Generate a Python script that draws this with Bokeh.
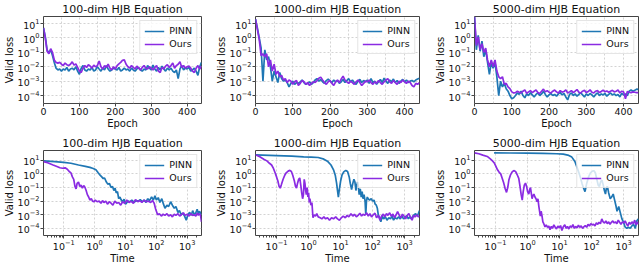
from bokeh.plotting import figure
from bokeh.layouts import row, column
from bokeh.models import FixedTicker, Range1d
from bokeh.embed import file_html
from bokeh.resources import INLINE

# ---------------- data ----------------
titles = ["100-dim HJB Equation", "1000-dim HJB Equation", "5000-dim HJB Equation"]
series_names = ["PINN", "Ours"]

epochs = [0, 5, 10, 15, 20, 25, 30, 35, 40, 45,
          50, 55, 60, 65, 70, 75, 80, 85, 90, 95,
          100, 105, 110, 115, 120, 125, 130, 135, 140, 145,
          150, 155, 160, 165, 170, 175, 180, 185, 190, 195,
          200, 205, 210, 215, 220, 225, 230, 235, 240, 245,
          250, 255, 260, 265, 270, 275, 280, 285, 290, 295,
          300, 305, 310, 315, 320, 325, 330, 335, 340, 345,
          350, 355, 360, 365, 370, 375, 380, 385, 390, 395,
          400, 405, 410, 415, 420, 425, 430, 435, 440]

e100_pinn = [5.0, 1.2, 0.15, 0.09, 0.15, 0.06, 0.02, 0.008, 0.006, 0.007,
             0.005, 0.007, 0.006, 0.009, 0.005, 0.007, 0.008, 0.006, 0.010, 0.005,
             0.003, 0.008, 0.012, 0.006, 0.005, 0.007, 0.006, 0.009, 0.005, 0.006,
             0.010, 0.007, 0.005, 0.008, 0.006, 0.012, 0.007, 0.005, 0.006, 0.008,
             0.007, 0.006, 0.009, 0.005, 0.006, 0.008, 0.006, 0.007, 0.005, 0.008,
             0.006, 0.005, 0.007, 0.009, 0.006, 0.005, 0.007, 0.006, 0.012, 0.008,
             0.006, 0.013, 0.007, 0.005, 0.009, 0.006, 0.011, 0.007, 0.005, 0.008,
             0.006, 0.008, 0.005, 0.004, 0.006, 0.0015, 0.007, 0.012, 0.006, 0.008,
             0.007, 0.009, 0.005, 0.006, 0.008, 0.005, 0.0025, 0.010, 0.020]
e100_ours = [5.0, 1.0, 0.12, 0.08, 0.18, 0.1, 0.03, 0.02, 0.018, 0.02,
             0.015, 0.012, 0.018, 0.014, 0.012, 0.015, 0.022, 0.013, 0.016, 0.009,
             0.005, 0.004, 0.008, 0.012, 0.009, 0.014, 0.011, 0.008, 0.013, 0.01,
             0.012, 0.025, 0.01, 0.007, 0.012, 0.009, 0.015, 0.008, 0.006, 0.01,
             0.007, 0.012, 0.016, 0.02, 0.028, 0.03, 0.015, 0.01, 0.008, 0.012,
             0.009, 0.007, 0.011, 0.008, 0.006, 0.009, 0.012, 0.008, 0.007, 0.01,
             0.008, 0.006, 0.009, 0.012, 0.005, 0.004, 0.009, 0.007, 0.011, 0.014,
             0.009, 0.012, 0.018, 0.008, 0.012, 0.015, 0.022, 0.009, 0.012, 0.008,
             0.01, 0.011, 0.008, 0.005, 0.004, 0.008, 0.012, 0.007, 0.011]

e1000_pinn = [20, 5, 1.0, 0.2, 0.001, 0.15, 0.03, 0.05, 0.01, 0.001,
              0.005, 0.002, 0.0008, 0.004, 0.0015, 0.001, 0.0012, 0.0008, 0.0004, 0.0007,
              0.001, 0.0006, 0.0008, 0.0007, 0.0009, 0.0012, 0.0008, 0.0006, 0.0007, 0.0009,
              0.0006, 0.0008, 0.0012, 0.0015, 0.001, 0.0013, 0.0009, 0.0007, 0.0011, 0.0014,
              0.001, 0.0008, 0.0012, 0.0009, 0.0011, 0.0007, 0.0009, 0.0013, 0.0008, 0.0011,
              0.0015, 0.0009, 0.0012, 0.0008, 0.0006, 0.001, 0.0013, 0.0008, 0.0011, 0.0009,
              0.0012, 0.0007, 0.0015, 0.0008, 0.001, 0.0006, 0.0009, 0.0013, 0.0008, 0.0016,
              0.001, 0.0007, 0.0012, 0.0009, 0.0014, 0.0008, 0.0011, 0.0007, 0.001, 0.0013,
              0.0009, 0.0012, 0.0008, 0.001, 0.0011, 0.0009, 0.0012, 0.0014, 0.0016]
e1000_ours = [20, 4, 0.8, 0.06, 0.08, 0.05, 0.08, 0.01, 0.03, 0.005,
              0.015, 0.003, 0.005, 0.002, 0.0025, 0.0012, 0.0015, 0.0008, 0.0012, 0.001,
              0.0006, 0.0009, 0.0011, 0.0005, 0.0007, 0.0011, 0.0009, 0.0006, 0.0008, 0.0005,
              0.0007, 0.0009, 0.0008, 0.0011, 0.0016, 0.0019, 0.0012, 0.0008, 0.0006, 0.0009,
              0.0011, 0.0007, 0.0005, 0.0009, 0.0012, 0.0008, 0.0014, 0.0022, 0.0012, 0.0009,
              0.0007, 0.001, 0.0008, 0.0006, 0.0009, 0.0012, 0.0008, 0.0005, 0.0007, 0.001,
              0.0009, 0.0012, 0.0008, 0.0006, 0.0009, 0.0007, 0.0011, 0.0008, 0.0006, 0.0009,
              0.0012, 0.0015, 0.0009, 0.0007, 0.0011, 0.0008, 0.0006, 0.001, 0.0008, 0.0012,
              0.0009, 0.0007, 0.001, 0.0008, 0.0005, 0.0004, 0.0007, 0.0006, 0.0008]

e5000_pinn = [30, 0.15, 1.5, 0.12, 0.6, 0.05, 0.15, 0.02, 0.003, 0.02,
              0.008, 0.02, 0.002, 0.0001, 0.001, 0.0004, 0.0007, 0.0003, 0.0002, 0.0001,
              6e-5, 7e-5, 1e-4, 1.5e-4, 1.2e-4, 2e-4, 1e-4, 7e-5, 1.3e-4, 1e-4,
              1.6e-4, 1.1e-4, 8e-5, 1.2e-4, 1.5e-4, 1e-4, 1.3e-4, 2e-4, 1.2e-4, 8e-5,
              1.1e-4, 1.4e-4, 1e-4, 1.2e-4, 9e-5, 1.3e-4, 1.6e-4, 1.1e-4, 1.4e-4, 8e-5,
              5e-5, 1.2e-4, 1.5e-4, 1e-4, 1.3e-4, 9e-5, 1.2e-4, 1.6e-4, 1.1e-4, 8e-5,
              1.3e-4, 1e-4, 1.4e-4, 1.1e-4, 8e-5, 1.2e-4, 1.5e-4, 1e-4, 1.3e-4, 1.1e-4,
              1.4e-4, 9e-5, 1.2e-4, 1.5e-4, 1.1e-4, 1.3e-4, 1e-4, 1.2e-4, 8e-5, 1.4e-4,
              1.1e-4, 1.3e-4, 1e-4, 2e-4, 2.5e-4, 2e-4, 2.3e-4, 2.8e-4, 2.7e-4]
e5000_ours = [30, 0.3, 1.2, 0.15, 0.4, 0.1, 0.2, 0.03, 0.01, 0.03,
              0.01, 0.03, 0.005, 0.002, 0.0015, 0.002, 0.0006, 0.0007, 0.0004, 0.0003,
              0.00018, 0.00015, 0.00016, 0.0002, 0.00017, 0.00015, 0.0002, 0.00025, 0.00014, 0.00018,
              0.00022, 0.00016, 0.0002, 0.00024, 0.00016, 0.00014, 0.0002, 0.00028, 0.00018, 0.00022,
              0.00017, 0.00015, 0.0002, 0.00024, 0.00018, 0.00015, 0.00022, 0.00017, 0.00019, 0.00025,
              0.00015, 0.00018, 0.00022, 0.00016, 0.0002, 0.00026, 0.00017, 0.00015, 0.0002, 0.00023,
              0.00016, 0.00019, 0.00025, 0.00017, 0.00015, 0.0002, 0.00022, 0.00016, 0.00019, 0.00024,
              0.00018, 0.00021, 0.00017, 0.0002, 0.00023, 0.00018, 0.0002, 0.00024, 0.00015, 0.0002,
              0.00018, 6e-5, 0.00019, 0.00017, 0.00016, 0.00018, 0.00017, 0.00016, 0.00016]

t100_pinn = [0.022, 0.05, 0.1, 0.17, 0.3, 0.5, 0.7, 0.9, 1.1, 1.3,
             1.5, 1.7, 1.9, 2.1, 2.4, 2.7, 3.0, 3.4, 3.8, 4.2,
             4.6, 5.0, 5.5, 6.0, 6.6, 7.3, 8.0, 9.0, 10, 12,
             14, 16, 19, 22, 26, 30, 35, 40, 46, 52,
             60, 70, 80, 90, 100, 115, 130, 150, 170, 190,
             220, 250, 290, 330, 380, 430, 500, 560, 640, 720,
             820, 930, 1050, 1200, 1350, 1500, 1700, 1900, 2100, 2300,
             2500, 2900]
v100_pinn = [9, 8, 7, 6, 4.5, 3.6, 3, 2.5, 2, 1.2,
             0.8, 0.6, 0.45, 0.5, 0.25, 0.17, 0.2, 0.1, 0.12, 0.06,
             0.09, 0.04, 0.05, 0.015, 0.02, 0.012, 0.009, 0.014, 0.006, 0.01,
             0.009, 0.012, 0.008, 0.011, 0.01, 0.013, 0.009, 0.012, 0.008, 0.015,
             0.011, 0.02, 0.012, 0.025, 0.012, 0.018, 0.008, 0.015, 0.006, 0.003,
             0.005, 0.004, 0.009, 0.005, 0.003, 0.004, 0.0015, 0.002, 0.001, 0.0013,
             0.0008, 0.0004, 0.001, 0.0015, 0.0009, 0.002, 0.001, 0.0014, 0.0025, 0.0012,
             0.0018, 0.001]
t100_ours = [0.022, 0.03, 0.045, 0.06, 0.075, 0.09, 0.11, 0.13, 0.15, 0.17,
             0.19, 0.21, 0.23, 0.25, 0.27, 0.3, 0.33, 0.36, 0.4, 0.44,
             0.48, 0.53, 0.58, 0.64, 0.7, 0.78, 0.86, 0.95, 1.05, 1.2,
             1.4, 1.6, 1.8, 2.0, 2.3, 2.6, 3.0, 3.4, 3.9, 4.5,
             5.2, 6.0, 7.0, 8.0, 9.5, 11, 13, 15, 18, 21,
             25, 29, 34, 40, 47, 55, 65, 75, 85, 95,
             110, 125, 145, 165, 190, 220, 250, 290, 330, 380,
             430, 500, 570, 650, 750, 850, 1000, 1150, 1300, 1500,
             1700, 1900, 2100, 2300, 2500, 2700, 2900]
v100_ours = [8, 6.5, 4.5, 3.5, 2.8, 2.6, 2.8, 2.2, 1.5, 1.2,
             0.6, 0.4, 0.12, 0.08, 0.2, 0.25, 0.12, 0.15, 0.09, 0.14,
             0.11, 0.06, 0.03, 0.02, 0.012, 0.015, 0.01, 0.009, 0.012, 0.009,
             0.01, 0.007, 0.011, 0.008, 0.01, 0.006, 0.009, 0.007, 0.005, 0.01,
             0.007, 0.008, 0.005, 0.009, 0.007, 0.012, 0.008, 0.01, 0.007, 0.013,
             0.009, 0.011, 0.008, 0.012, 0.009, 0.01, 0.008, 0.011, 0.007, 0.0025,
             0.001, 0.0012, 0.0008, 0.0011, 0.0009, 0.0012, 0.0008, 0.001, 0.0007, 0.0011,
             0.0009, 0.0012, 0.0008, 0.001, 0.0014, 0.0009, 0.0011, 0.0008, 0.0012, 0.0009,
             0.001, 0.0008, 0.0013, 0.0009, 0.0012, 0.0009, 0.0003]

t1000_pinn = [0.022, 0.1, 0.3, 0.7, 1.2, 2.0, 3.0, 4.0, 5.0, 6.0,
              6.8, 7.5, 8.0, 8.5, 9.0, 10, 11, 12.5, 14.5, 16.5,
              18.5, 20, 22, 24, 26, 28, 30, 32, 34, 36,
              38, 41, 44, 47, 50, 54, 58, 61, 64, 68,
              72, 80, 90, 100, 110, 120, 130, 140, 150, 165,
              180, 200, 220, 250, 280, 320, 360, 400, 450, 500,
              570, 650, 730, 820, 920, 1030, 1150, 1300, 1450, 1600,
              1800, 2000, 2200, 2500, 2900]
v1000_pinn = [25, 22, 20, 18, 17, 16, 12, 8, 4.5, 2,
              0.8, 0.2, 0.06, 0.02, 0.06, 0.3, 0.8, 1.4, 1.8, 1.5,
              0.6, 0.2, 0.07, 0.2, 0.4, 0.25, 0.06, 0.15, 0.25, 0.1,
              0.03, 0.08, 0.02, 0.05, 0.015, 0.03, 0.01, 0.001, 0.01, 0.02,
              0.015, 0.012, 0.015, 0.01, 0.012, 0.006, 0.005, 0.003, 0.001, 0.0006,
              0.0003, 0.0008, 0.0005, 0.0007, 0.0004, 0.0006, 0.0005, 0.0008, 0.0004, 0.0006,
              0.0005, 0.0007, 0.0005, 0.0008, 0.0005, 0.0006, 0.0009, 0.0005, 0.0007, 0.0005,
              0.0008, 0.001, 0.0012, 0.0008, 0.002]
t1000_ours = [0.022, 0.03, 0.04, 0.05, 0.06, 0.07, 0.08, 0.09, 0.1, 0.11,
              0.12, 0.13, 0.14, 0.16, 0.18, 0.2, 0.23, 0.26, 0.29, 0.32,
              0.36, 0.39, 0.42, 0.45, 0.49, 0.53, 0.57, 0.61, 0.65, 0.69,
              0.73, 0.77, 0.81, 0.85, 0.9, 0.95, 1.0, 1.05, 1.1, 1.18,
              1.27, 1.37, 1.5, 1.65, 1.8, 2.0, 2.3, 2.6, 3.0, 3.4,
              3.9, 4.5, 5.2, 6.0, 7.0, 8.0, 9.2, 10.5, 12, 14,
              16, 18, 21, 24, 27, 31, 35, 40, 45, 50,
              57, 65, 73, 82, 92, 105, 118, 132, 150, 170,
              190, 215, 240, 270, 300, 340, 380, 430, 480, 540,
              600, 680, 760, 850, 950, 1070, 1200, 1350, 1500, 1700,
              1900, 2100, 2400, 2700, 2900]
v1000_ours = [25, 18, 12, 9, 6, 4.5, 2.5, 1.2, 0.6, 0.3,
              0.12, 0.09, 0.15, 0.4, 0.8, 1.2, 1.6, 1.8, 1.5, 0.8,
              0.3, 0.12, 0.09, 0.2, 0.4, 0.5, 0.15, 0.04, 0.015, 0.03,
              0.4, 0.2, 0.06, 0.03, 0.1, 0.02, 0.04, 0.008, 0.015, 0.005,
              0.008, 0.0006, 0.001, 0.0008, 0.0012, 0.0007, 0.0006, 0.0005, 0.0007, 0.0005,
              0.0006, 0.0004, 0.0006, 0.0005, 0.0007, 0.0005, 0.0004, 0.0006, 0.0008, 0.0006,
              0.0009, 0.0007, 0.0012, 0.0008, 0.0011, 0.0007, 0.0009, 0.0013, 0.0008, 0.0011,
              0.0009, 0.0014, 0.0008, 0.0012, 0.0007, 0.001, 0.0013, 0.0006, 0.0009, 0.0004,
              0.0008, 0.0011, 0.0007, 0.0012, 0.0009, 0.0014, 0.0008, 0.0011, 0.0006, 0.001,
              0.0017, 0.0009, 0.0006, 0.0011, 0.0008, 0.0005, 0.0009, 0.0012, 0.0007, 0.0004,
              0.0009, 0.0007, 0.001, 0.0007, 0.0008]

t5000_pinn = [0.09, 0.3, 1, 3, 8, 13, 18, 24, 30, 35,
              40, 45, 50, 55, 62, 70, 80, 92, 105, 118,
              130, 145, 160, 175, 190, 210, 230, 250, 270, 290,
              310, 340, 380, 420, 470, 530, 580, 620, 700, 780,
              880, 980, 1100, 1250, 1400, 1600, 1800, 2030, 2300, 2600,
              2900]
v5000_pinn = [35, 34, 33, 32, 30, 28, 24, 17, 8, 3,
              1.2, 0.5, 0.2, 0.1, 0.05, 0.2, 0.6, 1.2, 1.6, 1.7,
              1.2, 0.4, 0.15, 0.12, 0.25, 0.35, 0.15, 0.06, 0.033, 0.1,
              0.12, 0.04, 0.015, 0.02, 0.033, 0.01, 0.004, 0.0018, 0.004, 0.0015,
              0.0005, 0.0003, 0.00013, 0.0001, 0.00012, 0.0001, 0.00015, 0.0002, 0.0001, 0.00038,
              0.0005]
t5000_ours = [0.022, 0.03, 0.04, 0.055, 0.07, 0.08, 0.09, 0.1, 0.115, 0.13,
              0.145, 0.16, 0.18, 0.2, 0.22, 0.24, 0.26, 0.29, 0.33, 0.37,
              0.42, 0.47, 0.53, 0.58, 0.63, 0.68, 0.73, 0.79, 0.86, 0.93,
              1.0, 1.09, 1.16, 1.23, 1.3, 1.38, 1.47, 1.57, 1.7, 1.83,
              1.98, 2.1, 2.25, 2.5, 2.65, 2.8, 3.0, 3.2, 3.5, 3.8,
              4.2, 4.6, 5.0, 5.5, 6.0, 6.6, 7.3, 8.0, 8.8, 9.7,
              10.7, 11.8, 13, 14.5, 16, 17.6, 19.4, 21.4, 23.6, 26,
              28.7, 31.6, 35, 38.6, 42.5, 47, 52, 57, 63, 70,
              77, 85, 94, 104, 115, 127, 140, 155, 170, 188,
              207, 228, 252, 278, 307, 339, 374, 413, 456, 503,
              555, 613, 676, 746, 824, 909, 1003, 1107, 1222, 1349,
              1489, 1643, 1814, 2002, 2210, 2440, 2700, 2900]
v5000_ours = [35, 30, 24, 19, 12, 9, 6.6, 4, 2, 1.3,
              1.0, 0.5, 0.21, 0.08, 0.044, 0.1, 0.35, 0.8, 1.4, 1.75,
              1.5, 0.9, 0.47, 0.12, 0.03, 0.012, 0.05, 0.15, 0.21, 0.12,
              0.05, 0.033, 0.07, 0.1, 0.04, 0.015, 0.025, 0.033, 0.02, 0.015,
              0.009, 0.015, 0.004, 0.0008, 0.0018, 0.0009, 0.0003, 0.00022, 0.00013, 0.00018,
              0.00012, 0.00015, 8e-5, 0.00014, 0.0001, 0.00018, 0.00012, 9e-5, 0.00015, 0.00011,
              0.00016, 7e-5, 0.00013, 0.00018, 0.0001, 0.00014, 9e-5, 0.00015, 0.00012, 0.00019,
              0.0001, 0.00014, 0.00011, 0.00017, 0.00012, 0.00015, 0.0001, 0.00013, 0.00016, 0.00012,
              0.0002, 0.00015, 0.00022, 0.00018, 0.0002, 0.00015, 0.00025, 0.0002, 0.00028, 0.00022,
              0.0005, 0.0003, 0.00025, 0.00035, 0.00022, 0.0003, 0.0002, 0.00028, 0.00035, 0.00025,
              0.0003, 0.00022, 0.0004, 0.00028, 0.0002, 0.0003, 0.00025, 0.00035, 0.00022, 0.00015,
              0.00028, 0.0002, 0.0003, 0.00022, 0.0004, 0.00018, 0.0003, 0.0002]

y_ticks = [1e-4, 1e-3, 1e-2, 1e-1, 1, 10]
epoch_ticks = [0, 100, 200, 300, 400]
epoch_minor = [50, 150, 250, 350]
time_ticks = [0.1, 1, 10, 100, 1000]
time_minor = [0.03, 0.04, 0.05, 0.06, 0.07, 0.08, 0.09,
              0.2, 0.3, 0.4, 0.5, 0.6, 0.7, 0.8, 0.9,
              2, 3, 4, 5, 6, 7, 8, 9,
              20, 30, 40, 50, 60, 70, 80, 90,
              200, 300, 400, 500, 600, 700, 800, 900, 2000]

# ---------------- styling ----------------
BLUE = "#1f77b4"
PURPLE = "#8a2be2"
FONT = "DejaVu Sans"
widths = [212, 219, 209]
left_b = [36, 36, 36]
right_b = [11, 12, 2]
TOP_H = 131
BOT_H = 135


def make(i, top_row, xs_p, ys_p, xs_o, ys_o):
    if top_row:
        p = figure(width=widths[i], height=TOP_H, output_backend="svg", toolbar_location=None,
                   y_axis_type="log", x_range=Range1d(0, 440), y_range=Range1d(2.8e-5, 31))
        p.min_border_top = 0
        p.min_border_bottom = 0
        p.xaxis.ticker = FixedTicker(ticks=epoch_ticks, minor_ticks=epoch_minor)
        p.xaxis.axis_label = "Epoch"
        p.xgrid.minor_grid_line_color = "#c8c8c8"
        p.xgrid.minor_grid_line_dash = "2 2"
        p.xgrid.minor_grid_line_alpha = 0.8
    else:
        p = figure(width=widths[i], height=BOT_H, output_backend="svg", toolbar_location=None,
                   x_axis_type="log", y_axis_type="log",
                   x_range=Range1d(0.022, 2900), y_range=Range1d(3e-5, 52))
        p.min_border_top = 19
        p.min_border_bottom = 0
        p.xaxis.ticker = FixedTicker(ticks=time_ticks, minor_ticks=time_minor)
        p.xaxis.axis_label = "Time"
    p.min_border_left = left_b[i]
    p.min_border_right = right_b[i]
    p.yaxis.ticker = FixedTicker(ticks=y_ticks, minor_ticks=[])
    p.yaxis.axis_label = "Valid loss"

    p.title.text = titles[i]
    p.title.text_font = FONT
    p.title.text_font_size = "11px"
    p.title.text_font_style = "normal"
    p.title.text_line_height = 1.0
    p.title.align = "center"
    p.title.standoff = 1
    p.title.text_color = "#111111"

    for ax in (p.xaxis[0], p.yaxis[0]):
        ax.axis_label_text_font = FONT
        ax.axis_label_text_font_size = "10px"
        ax.axis_label_text_font_style = "normal"
        ax.axis_label_text_color = "#111111"
        ax.axis_label_text_line_height = 1.0
        ax.axis_label_standoff = 0
        ax.major_label_text_font = FONT
        ax.major_label_text_font_size = "9.5px"
        ax.major_label_text_color = "#111111"
        ax.major_label_text_line_height = 1.0
        ax.major_label_standoff = 1
        ax.major_tick_in = 0
        ax.major_tick_out = 3
        ax.major_tick_line_color = "#444444"
        ax.minor_tick_in = 0
        ax.minor_tick_out = 2
        ax.minor_tick_line_color = "#444444" if (ax is p.xaxis[0] and not top_row) else None
        ax.axis_line_color = None

    p.outline_line_color = "#444444"
    p.outline_line_width = 1
    p.background_fill_color = "white"
    p.border_fill_color = "white"

    for g in (p.xgrid[0], p.ygrid[0]):
        g.grid_line_color = "#c8c8c8"
        g.grid_line_dash = "2 2"
        g.grid_line_width = 1
        g.grid_line_alpha = 0.8

    p.line(xs_p, ys_p, line_color=BLUE, line_width=1.7, legend_label=series_names[0])
    p.line(xs_o, ys_o, line_color=PURPLE, line_width=1.7, legend_label=series_names[1])

    lg = p.legend[0]
    lg.location = "top_right"
    lg.label_text_font = FONT
    lg.label_text_font_size = "9.5px"
    lg.label_text_color = "#111111"
    lg.label_height = 10
    lg.glyph_height = 10
    lg.glyph_width = 20
    lg.label_standoff = 5
    lg.spacing = 2
    lg.padding = 4
    lg.margin = 4
    lg.border_line_color = "#cccccc"
    lg.background_fill_alpha = 0.8
    return p


figs_top = [
    make(0, True, epochs, e100_pinn, epochs, e100_ours),
    make(1, True, epochs, e1000_pinn, epochs, e1000_ours),
    make(2, True, epochs, e5000_pinn, epochs, e5000_ours),
]
figs_bot = [
    make(0, False, t100_pinn, v100_pinn, t100_ours, v100_ours),
    make(1, False, t1000_pinn, v1000_pinn, t1000_ours, v1000_ours),
    make(2, False, t5000_pinn, v5000_pinn, t5000_ours, v5000_ours),
]

layout = column(row(*figs_top, spacing=0), row(*figs_bot, spacing=0), spacing=0)

with open("out.html", "w") as f:
    f.write(file_html(layout, INLINE))
